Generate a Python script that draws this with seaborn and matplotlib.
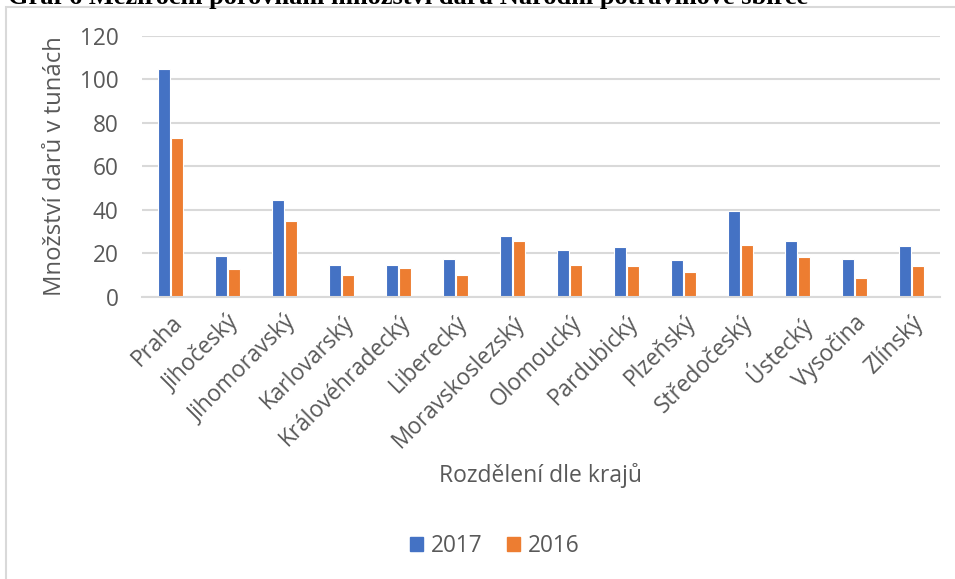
import matplotlib
matplotlib.use("Agg")
import matplotlib.pyplot as plt
import seaborn as sns
import pandas as pd
from matplotlib.patches import Rectangle

regions = ["Praha", "Jihočeský", "Jihomoravský", "Karlovarský", "Královéhradecký",
           "Liberecký", "Moravskoslezský", "Olomoucký", "Pardubický", "Plzeňský",
           "Středočeský", "Ústecký", "Vysočina", "Zlínský"]
values_2017 = [105, 18.6, 44.7, 14.5, 14.5, 17.5, 28.1, 21.6, 22.7, 16.9, 39.3, 25.8, 17.5, 23.3]
values_2016 = [73, 12.7, 34.7, 9.8, 13.4, 9.8, 25.8, 14.5, 14.0, 11.5, 23.9, 18.1, 8.6, 14.0]
years = ["2017", "2016"]
yticks = [0, 20, 40, 60, 80, 100, 120]

title = "Graf 6 Meziroční porovnání množství darů Národní potravinové sbírce"
ylabel = "Množství darů v tunách"
xlabel = "Rozdělení dle krajů"

df = pd.DataFrame({
    "kraj": regions * 2,
    "rok": [years[0]] * len(regions) + [years[1]] * len(regions),
    "hodnota": values_2017 + values_2016,
})

sns.set_theme(style="white")
plt.rcParams['font.family'] = ['Open Sans', 'DejaVu Sans']
grey = "#595959"

fig = plt.figure(figsize=(9.55, 5.79), dpi=100)
ax = fig.add_axes([142/955, 1 - 296.7/579, (940-142)/955, (296.7-36)/579])

palette = {"2017": "#4472C4", "2016": "#ED7D31"}
sns.barplot(data=df, x="kraj", y="hodnota", hue="rok", palette=palette,
            width=0.48, gap=0.1, edgecolor="white", linewidth=0.8,
            ax=ax, legend=False, errorbar=None, saturation=1)

ax.set_ylim(0, 120)
ax.set_yticks(yticks)
ax.set_xlim(-0.5, len(regions) - 0.5)
ax.yaxis.grid(True, color="#d9d9d9", linewidth=1.5)
ax.set_axisbelow(True)
for s in ["top", "right", "left"]:
    ax.spines[s].set_visible(False)
ax.spines["bottom"].set_color("#d9d9d9")
ax.spines["bottom"].set_linewidth(1.5)
ax.tick_params(axis="both", length=0, colors=grey, labelsize=16.3)
ax.tick_params(axis="y", pad=17)
ax.tick_params(axis="x", pad=10)
for lbl in ax.get_xticklabels():
    lbl.set_rotation(45)
    lbl.set_ha("right")
    lbl.set_rotation_mode("anchor")

ax.set_ylabel(ylabel, fontsize=17.2, color=grey, labelpad=9)
ax.set_xlabel("")
fig.text(540/955, 1 - 476/579, xlabel, ha="center", va="center", fontsize=16.5, color=grey)

handles = [Rectangle((0, 0), 1, 1, color=palette[y]) for y in years]
fig.legend(handles, years, loc="center", bbox_to_anchor=(495/955, 1 - 546/579),
           ncol=2, frameon=False, fontsize=16.3, handlelength=0.55, handleheight=0.55,
           columnspacing=1.1, handletextpad=0.35, labelcolor=grey)

# chart border
fig.patches.append(Rectangle((5.5/955, -0.1), 2, 1 - 7/579 + 0.1, transform=fig.transFigure,
                             fill=False, edgecolor="#d9d9d9", linewidth=1.5))

fig.text(8/955, 1 - 4/579, title, ha="left", va="baseline", fontsize=19,
         fontweight="bold", family=["Liberation Serif", "DejaVu Serif"], color="black")

fig.savefig("out.png", dpi=100)
